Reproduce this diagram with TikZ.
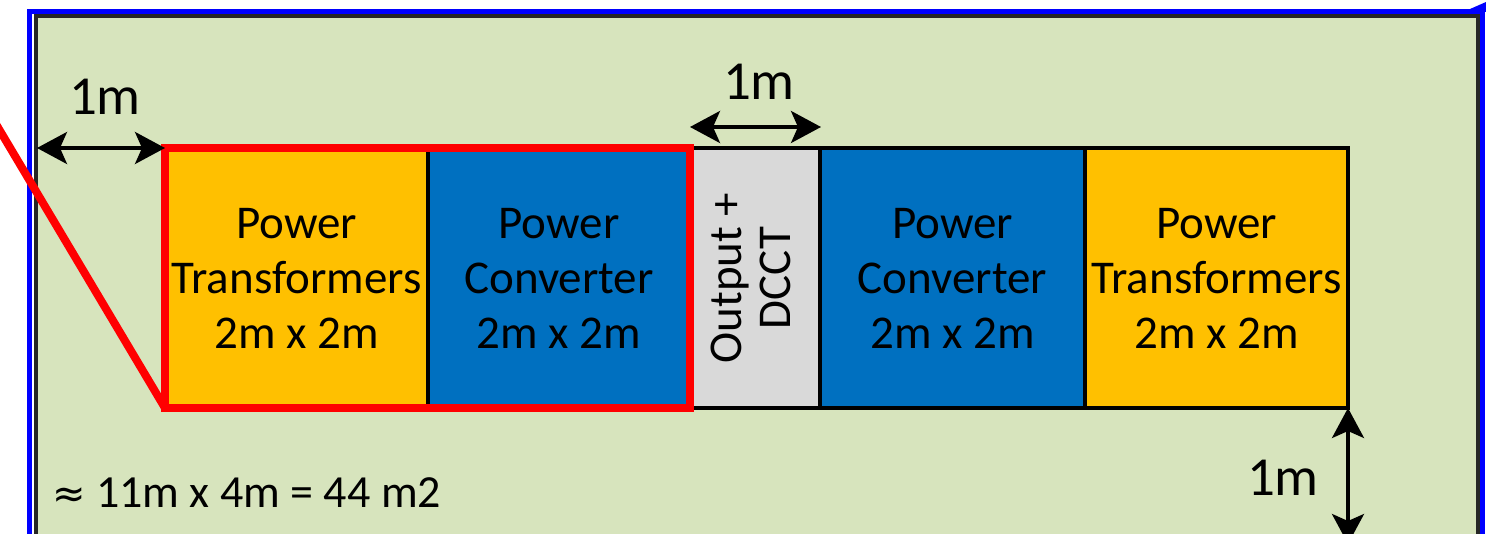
\documentclass[tikz,border=0pt]{standalone}
\usepackage{fontspec}
\setmainfont{Carlito}
\newfontfamily\symfont{DejaVu Sans}
\usetikzlibrary{arrows.meta}
\definecolor{bggreen}{HTML}{D7E4BD}
\definecolor{orng}{HTML}{FFC000}
\definecolor{blu}{HTML}{0070C0}
\definecolor{gry}{HTML}{D9D9D9}
\tikzset{
  box/.style={draw=black, line width=4pt, inner sep=0pt, outer sep=0pt, align=center,
    minimum height=260pt, font=\fontsize{47}{55}\selectfont},
  dim/.style={line width=3.5pt, {Stealth[length=30pt,width=32pt,inset=7pt]}-{Stealth[length=30pt,width=32pt,inset=7pt]}},
  lbl/.style={font=\fontsize{55}{60}\selectfont, inner sep=0pt},
}
\begin{document}
\begin{tikzpicture}[x=1pt,y=-1pt]
\useasboundingbox (0,0) rectangle (1486,534);
\fill[white] (0,0) rectangle (1486,534);
% outer blue frame
\draw[blue, line width=5pt] (29,12) rectangle (1482,600);
\fill[blue] (1470,9) -- (1486,2) -- (1486,12) -- cycle;
% green area
\draw[fill=bggreen, draw=black!85, line width=4pt] (36,16) rectangle (1478,600);
% boxes
\node[box, fill=orng, minimum width=263pt] (t1) at (296.5,278) {Power\\Transformers\\2m x 2m};
\node[box, fill=blu, minimum width=262pt, anchor=west] (c1) at (t1.east) {Power\\Converter\\2m x 2m};
\node[box, fill=gry, minimum width=130pt, anchor=west] (o) at (c1.east) {};
\node[box, fill=blu, minimum width=265pt, anchor=west] (c2) at (o.east) {Power\\Converter\\2m x 2m};
\node[box, fill=orng, minimum width=263pt, anchor=west] (t2) at (c2.east) {Power\\Transformers\\2m x 2m};
\node[rotate=90, align=center, inner sep=0pt, font=\fontsize{47}{49}\selectfont] (ot) at ([xshift=-4pt]o.center) {Output +\\DCCT};
% red highlight
\draw[red, line width=8pt] (t1.north west) rectangle (c1.south east);
\coordinate (rs) at (-10,114);
\draw[red, line width=8pt] (rs) -- (t1.south west);
% dimension arrows
\coordinate (la) at (37,148);
\draw[dim] (la) -- (t1.north west);
\node[lbl] (l1) at (105,97) {1m};
\coordinate (ta) at (690,127);
\coordinate (tb) at (821,127);
\draw[dim] (ta) -- (tb);
\node[lbl] (l2) at (759,82) {1m};
\coordinate (vb) at (1348,544);
\draw[dim] (t2.south east) -- (vb);
\node[lbl] (l3) at (1283,478) {1m};
\node[anchor=west, inner sep=0pt, font=\fontsize{46}{55}\selectfont] (area) at (52,493) {{\symfont\fontsize{40}{50}\selectfont ≈} 11m x 4m = 44 m2};
\end{tikzpicture}
\end{document}
